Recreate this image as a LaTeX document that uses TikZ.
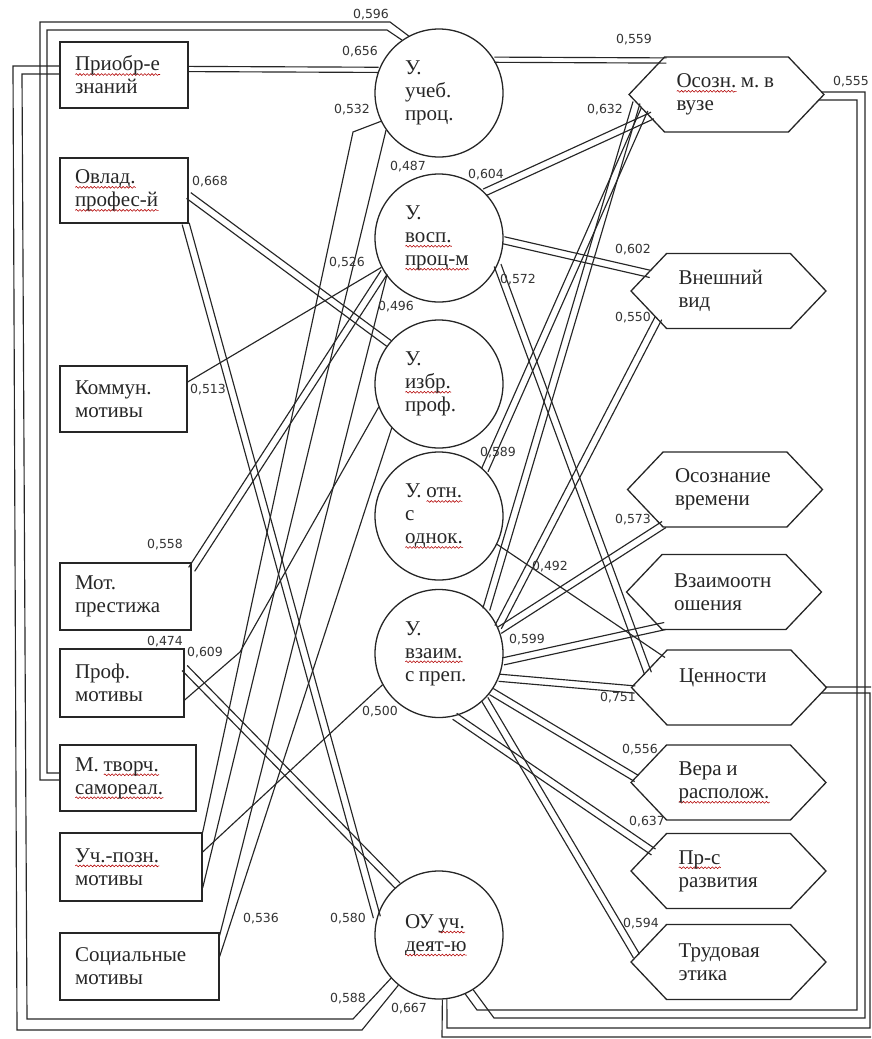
\documentclass[tikz,border=0pt]{standalone}
\usepackage{fontspec}
\setmainfont{Liberation Serif}
\newfontfamily\numfont{DejaVu Sans}
\usetikzlibrary{calc,shapes.symbols,decorations.pathmorphing}
% spell-checker style wavy underline
\newsavebox\sqbox
\newdimen\sqw
\newcommand\sq[1]{\leavevmode\sbox\sqbox{#1}\sqw=\wd\sqbox\relax
  \rlap{\raisebox{-3.6pt}[0pt][0pt]{\tikz[baseline=0pt]\draw[red!70!black,line width=0.55pt,decorate,
      decoration={snake,segment length=3.6pt,amplitude=0.9pt}] (0pt,0pt) -- (\sqw,0pt);}}\usebox\sqbox}
% two parallel strokes between two points
\newcommand\dline[3][3.6pt]{%
  \draw[lnk] ($(#2)!#1!90:(#3)$) -- ($(#3)!#1!-90:(#2)$);
  \draw[lnk] ($(#2)!#1!-90:(#3)$) -- ($(#3)!#1!90:(#2)$);}
\begin{document}
\frenchspacing
\begin{tikzpicture}[x=1pt,y=-1pt,
  lnk/.style={line width=1.15pt,draw=black!85},
  txt/.style={font=\fontsize{21}{23}\selectfont,align=left,text=black!85,
     execute at begin node={\spaceskip=0.22em plus 0.1em\relax}},
  box/.style={txt,draw=black!85,line width=1.3pt,rectangle,inner xsep=15pt,inner ysep=0pt},
  circ/.style={txt,draw=black!85,line width=1.3pt,circle,minimum size=128pt,inner sep=0pt,text width=68pt},
  hexa/.style={txt,draw=black!85,line width=1.3pt,signal,signal to=west and east,signal pointer angle=93,
     minimum width=195pt,minimum height=75pt,inner sep=0pt,text width=100pt},
  num/.style={font=\numfont\fontsize{12.5}{14}\selectfont,inner sep=0pt,text=black!80}]
\useasboundingbox (0,0) rectangle (871,1039);
\clip (0,0) rectangle (871,1039);

% motives
\node[box,minimum width=128pt,minimum height=66pt,text width=98pt] (b1) at (124,75) {\sq{Приобр-е}\\знаний};
\node[box,minimum width=128pt,minimum height=65pt,text width=98pt] (b2) at (124,190.5) {\sq{Овлад.}\\\sq{профес-й}};
\node[box,minimum width=127pt,minimum height=66pt,text width=97pt] (b3) at (123.5,399) {Коммун.\\мотивы};
\node[box,minimum width=131pt,minimum height=67pt,text width=101pt] (b4) at (125.5,596.5) {Мот.\\престижа};
\node[box,minimum width=124pt,minimum height=68pt,text width=94pt] (b5) at (122,683) {Проф.\\мотивы};
\node[box,minimum width=136pt,minimum height=66pt,text width=106pt] (b6) at (128,778) {М. \sq{творч.}\\\sq{самореал.}};
\node[box,minimum width=142pt,minimum height=68pt,text width=112pt] (b7) at (131,867) {\sq{Уч.-позн.}\\мотивы};
\node[box,minimum width=159pt,minimum height=67pt,text width=129pt] (b8) at (139.5,966.5) {Социальные\\мотивы};

% satisfaction
\node[circ] (c1) at (439,93) {У.\\учеб.\\проц.};
\node[circ] (c2) at (439,238) {У.\\\sq{восп.}\\\sq{проц-м}};
\node[circ] (c3) at (439,384) {У.\\\sq{избр.}\\проф.};
\node[circ] (c4) at (439,516) {У. \sq{отн.}\\с\\\sq{однок.}};
\node[circ] (c5) at (439,653.5) {У.\\\sq{взаим.}\\с преп.};
\node[circ] (c6) at (439,935) {ОУ \sq{уч.}\\\sq{деят-ю}};

% values
\node[hexa] (h1) at (726.5,94.5) {\mbox{\sq{Осозн.} м. в}\\вузе};
\node[hexa] (h2) at (728.5,291) {Внешний\\вид};
\node[hexa] (h3) at (725,489.5) {Осознание\\времени};
\node[hexa] (h4) at (724,592) {Взаимоотн\\ошения};
\node[hexa] (h5) at (729,687.5) {Ценности\\\mbox{}};
\node[hexa] (h6) at (728.5,782.5) {Вера и\\\sq{располож.}};
\node[hexa] (h7) at (728.5,871) {\sq{Пр-с}\\развития};
\node[hexa] (h8) at (728.5,962) {Трудовая\\этика};

% attachment points
\coordinate (b1r) at ($(b1.east)+(0,-6)$);
\coordinate (b2r) at ($(b2.east)+(0,5)$);
\coordinate (b2b) at ($(b2.south east)+(-3,0)$);
\coordinate (b3r) at ($(b3.east)+(0,-17)$);
\coordinate (b4r) at ($(b4.north east)+(0,7)$);
\coordinate (b5r) at ($(b5.east)+(0,-15)$);
\coordinate (b5c) at ($(b5.east)+(0,17)$);
\coordinate (b7a) at ($(b7.east)+(0,-15)$);
\coordinate (b7c) at ($(b7.east)+(0,21)$);
\coordinate (b8a) at ($(b8.north east)+(0,3)$);
\coordinate (b8b) at ($(b8.east)+(0,-10)$);
\coordinate (h1a) at ($(h1)+(-60,-34)$);
\coordinate (h1b) at ($(h1)+(-74,21)$);
\coordinate (h1c) at ($(h1)+(-82,15)$);
\coordinate (h1d) at ($(h1)+(-90,8)$);
\coordinate (h2a) at ($(h2)+(-78,-17)$);
\coordinate (h2b) at ($(h2)+(-70,27)$);
\coordinate (h3a) at ($(h3)+(-61,35)$);
\coordinate (h4a) at ($(h4)+(-59,34)$);
\coordinate (h5a) at ($(h5)+(-81,-14)$);
\coordinate (h5b) at ($(h5)+(-64,-30)$);
\coordinate (h5c) at ($(h5)+(-94,2)$);
\coordinate (h6a) at ($(h6)+(-92,-4)$);
\coordinate (h7a) at ($(h7)+(-75,-19)$);
\coordinate (h8a) at ($(h8)+(-92,-6)$);

% outer loops
\draw[lnk] ($(b1.west)+(0,-9)$) -- (13,66) -- (17,1030) -- (362,1030) -- (c6.231);
\draw[lnk] ($(b1.west)+(0,-1)$) -- (22,74) -- (27,1019) -- (353,1019) -- (c6.222);
\draw[lnk] ($(b6.west)+(0,2)$) -- (40,780) -- (40,22) -- (390,22) -- (c1.118);
\draw[lnk] ($(b6.west)+(0,-5)$) -- (47,773) -- (47,30) -- (387,30) -- (c1.125);
\draw[lnk] ($(h1)+(95,-2.5)$) -- (865,92) -- (865,1018) -- (494,1018) -- (c6.-58);
\draw[lnk] ($(h1)+(92,5.5)$) -- (857,100) -- (857,1010) -- (477,1010) -- (c6.-66);
\draw[lnk] ($(h5)+(96,-0.5)$) -- (877,687) -- (877,1037) -- (442,1037) -- (c6.-87);
\draw[lnk] ($(h5)+(92,5.5)$) -- (870,693) -- (870,1028) -- (447,1028) -- (c6.-83);

% motives to satisfaction
\dline[2.6pt]{b1r}{c1.159}
\dline{b2r}{c3.141}
\dline{b2b}{c6.164}
\dline{b4r}{c2.212}
\dline{b5r}{c6.130}
\draw[lnk] (b3r) -- (c2.207);
\draw[lnk] (b7a) -- (c5.209);
\draw[lnk] (c1.206) -- (353,132) -- (b7.north east);
\draw[lnk] (c1.215) -- (b7c);
\draw[lnk] (c2.216) -- (b8a);
\draw[lnk] (c3.223) -- (b8b);
\draw[lnk] (b5c) -- (240,652) -- (c3.201);

% satisfaction to values
\dline[2.6pt]{c1.31}{h1a}
\dline{c2.45}{h1b}
\dline{c4.45}{h1c}
\dline{c5.43}{h1d}
\dline{c2.-2}{h2a}
\dline{c2.-25}{h5a}
\dline{h2b}{c5.24}
\dline{c5.21}{h3a}
\dline{c5.-7}{h4a}
\dline{c5.-22}{h5c}
\dline{c5.-36}{h6a}
\dline{c5.-76}{h7a}
\dline{c5.-45}{h8a}
\draw[lnk] (c4.-26) -- (h5b);

% coefficients
\node[num] (n596) at (371,15) {0,596};
\node[num] (n656) at (360,52) {0,656};
\node[num] (n532) at (352,110) {0,532};
\node[num] (n487) at (408,167) {0,487};
\node[num] (n668) at (210,182) {0,668};
\node[num] (n559) at (634,40) {0,559};
\node[num] (n555) at (851,82) {0,555};
\node[num] (n632) at (605,110) {0,632};
\node[num] (n604) at (486,175) {0,604};
\node[num] (n526) at (347,263) {0,526};
\node[num] (n496) at (396,307) {0,496};
\node[num] (n513) at (208,390) {0,513};
\node[num] (n602) at (633,250) {0,602};
\node[num] (n572) at (518,280) {0,572};
\node[num] (n550) at (633,318) {0,550};
\node[num] (n589) at (498,453) {0,589};
\node[num] (n573) at (633,520) {0,573};
\node[num] (n492) at (550,567) {0,492};
\node[num] (n599) at (527,640) {0,599};
\node[num] (n751) at (618,698) {0,751};
\node[num] (n556) at (640,750) {0,556};
\node[num] (n637) at (647,822) {0,637};
\node[num] (n594) at (641,924) {0,594};
\node[num] (n558) at (165,545) {0,558};
\node[num] (n474) at (165,642) {0,474};
\node[num] (n609) at (205,653) {0,609};
\node[num] (n500) at (380,712) {0,500};
\node[num] (n536) at (261,919) {0,536};
\node[num] (n580) at (348,919) {0,580};
\node[num] (n588) at (348,999) {0,588};
\node[num] (n667) at (409,1009) {0,667};
\end{tikzpicture}
\end{document}
